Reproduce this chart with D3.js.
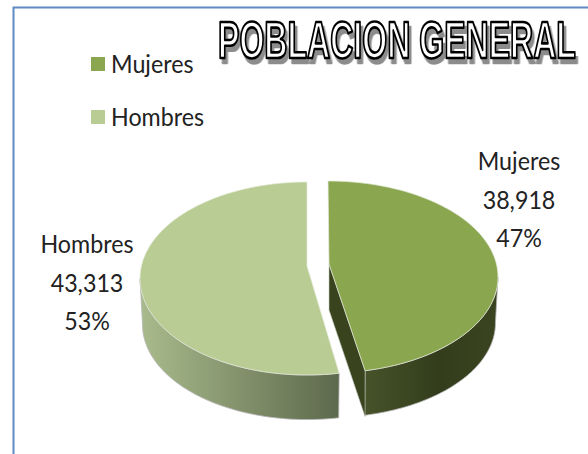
<!DOCTYPE html>
<html>
<head>
<meta charset="utf-8">
<script src="https://cdnjs.cloudflare.com/ajax/libs/d3/7.8.5/d3.min.js"></script>
<style>
  html, body { margin: 0; padding: 0; background: #fff; }
  svg { display: block; }
  text { font-family: Lato, "Open Sans", sans-serif; fill: #222; }
</style>
</head>
<body>
<svg id="chart" width="588" height="454"></svg>
<script>
const categories = ["Mujeres", "Hombres"];
const values = [38918, 43313];
const valueLabels = ["38,918", "43,313"];
const percentLabels = ["47%", "53%"];
const colors = ["#8aa64f", "#b8cc94"];
const titleText = "POBLACION GENERAL";

const svg = d3.select("#chart");
const defs = svg.append("defs");

// horizontal gradients for the pie walls
function wallGradient(id, stops) {
  const g = defs.append("linearGradient").attr("id", id);
  stops.forEach(s => g.append("stop").attr("offset", s[0]).attr("stop-color", s[1]));
}
wallGradient("wall0", [[0, "#47532a"], [0.55, "#333d1c"], [1, "#3a4420"]]);
wallGradient("wall1", [[0, "#a9bb8c"], [1, "#5d694c"]]);

// frame
svg.append("path")
  .attr("d", "M13.5,454V7.5H588")
  .attr("fill", "none")
  .attr("stroke", "#5f8ac4")
  .attr("stroke-width", 2);

// squeeze Lato a bit, it runs wider than the original font
function squeeze(sel, k) {
  sel.each(function () {
    const x = +this.getAttribute("x");
    const y = +this.getAttribute("y");
    this.setAttribute("transform", `translate(${x},${y}) scale(${k},1)`);
    this.setAttribute("x", 0);
    this.setAttribute("y", 0);
  });
}

// legend
const legendY = d3.scalePoint().domain(categories).range([64, 117]);
const legend = svg.selectAll(".legend").data(categories).join("g")
  .attr("class", "legend")
  .attr("transform", d => `translate(91,${legendY(d)})`);
legend.append("rect")
  .attr("y", -7).attr("width", 14).attr("height", 14)
  .attr("fill", (d, i) => colors[i]);
legend.append("text")
  .attr("x", 20).attr("y", 9)
  .attr("font-size", 24.5)
  .text(d => d)
  .call(squeeze, 0.95);

// title, wordart style: one text, the shadow comes from a css filter
const title = svg.append("text")
  .attr("font-weight", 700)
  .attr("font-size", 52)
  .attr("stroke-width", 2.2)
  .attr("stroke-linejoin", "round")
  .style("font-family", "'Liberation Sans', Arial, sans-serif")
  .style("fill", "#fff")
  .style("stroke", "#000")
  .style("vector-effect", "non-scaling-stroke")
  .style("filter", "drop-shadow(4px 5px 0 #8c8c8c)")
  .text(titleText);
const titleWidth = title.node().getComputedTextLength();
title.attr("transform", `translate(218,57.5) scale(${358 / titleWidth},1)`);

// pie
const pie = d3.pie().sort(null).value(d => d).startAngle(0).endAngle(2 * Math.PI);
const arcs = pie(values);

// skew is the perspective shift of the lower cut, in radians
const geometry = [
  { cx: 328, cy: 277, rx: 170, ry: 96, apexX: 329, apexY: 264, depth: 46, skew: -0.052 },
  { cx: 307, cy: 278.5, rx: 167, ry: 96.5, apexX: 307, apexY: 266, depth: 46, skew: -0.026 }
];
const cut = (arc, g) => ({
  start: arc.startAngle === 0 ? 0 : arc.startAngle + g.skew,
  end: arc.endAngle === 2 * Math.PI ? arc.endAngle : arc.endAngle + g.skew
});

function point(g, a, dy) {
  const shrink = dy ? 0.985 : 1;
  return [g.cx + g.rx * shrink * Math.sin(a), g.cy + g.ry * shrink * -Math.cos(a) + (dy || 0)];
}
function arcPoints(g, a0, a1, dy) {
  const n = 80;
  return d3.range(n + 1).map(i => point(g, a0 + (a1 - a0) * i / n, dy));
}
const line = d3.line();

// walls, drawn before the tops
arcs.forEach((arc, i) => {
  const g = geometry[i];
  const c = cut(arc, g);
  // only the near half of the rim shows
  const a0 = Math.max(c.start, Math.PI / 2);
  const a1 = Math.min(c.end, 3 * Math.PI / 2);
  const wall = arcPoints(g, a0, a1, 0).concat(arcPoints(g, a1, a0, g.depth));
  svg.append("path")
    .attr("d", line(wall) + "Z")
    .attr("fill", `url(#wall${i})`)
    .attr("stroke", "#b5b5b5")
    .attr("stroke-width", 0.8);
});

// cut face of the right slice
const g0 = geometry[0];
const end0 = point(g0, cut(arcs[0], g0).end, 0);
const apex0 = [g0.apexX, g0.apexY];
svg.append("path")
  .attr("d", line([apex0, end0, [end0[0], end0[1] + g0.depth], [apex0[0], apex0[1] + g0.depth]]) + "Z")
  .attr("fill", "#39441f")
  .attr("stroke", "#c8cdbd")
  .attr("stroke-width", 0.6);

// tops
arcs.forEach((arc, i) => {
  const g = geometry[i];
  const c = cut(arc, g);
  const top = [[g.apexX, g.apexY]].concat(arcPoints(g, c.start, c.end, 0));
  svg.append("path")
    .attr("d", line(top) + "Z")
    .attr("fill", colors[i])
    .attr("stroke", "#e6ebdc")
    .attr("stroke-width", 0.7);
});

// data labels
const labelX = d3.scaleOrdinal().domain(categories).range([519, 87]);
const labelY = d3.scaleOrdinal().domain(categories).range([170, 253]);
categories.forEach((c, i) => {
  const rows = [c, valueLabels[i], percentLabels[i]];
  svg.selectAll(null).data(rows).join("text")
    .attr("x", labelX(c))
    .attr("y", (d, k) => labelY(c) + k * 38.5)
    .attr("text-anchor", "middle")
    .attr("font-size", 24.5)
    .text(d => d)
    .call(squeeze, 0.95);
});
</script>
</body>
</html>
